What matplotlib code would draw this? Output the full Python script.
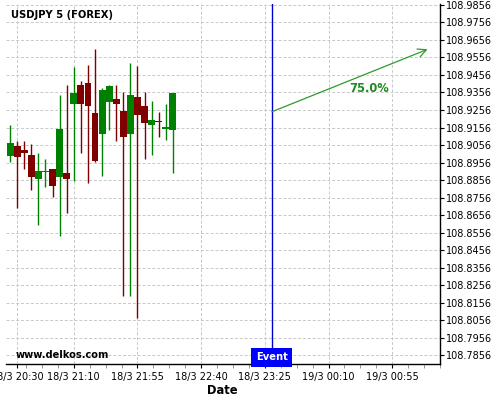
import datetime as dt
import numpy as np
import matplotlib
matplotlib.use("Agg")
import matplotlib.pyplot as plt
import matplotlib.dates as mdates
from matplotlib.transforms import blended_transform_factory

# 5 minute candles, USDJPY
start = dt.datetime(2020, 3, 18, 20, 25)
times = [start + dt.timedelta(minutes=5 * i) for i in range(24)]
opens = [108.8991, 108.9051, 108.9025, 108.9000, 108.8860, 108.8900, 108.8921, 108.8872,
         108.8898, 108.9291, 108.9397, 108.9409, 108.9238, 108.9121, 108.9303, 108.9318,
         108.9250, 108.9121, 108.9329, 108.9278, 108.9172, 108.9193, 108.9150, 108.9144]
closes = [108.9068, 108.8985, 108.9013, 108.8872, 108.8909, 108.8909, 108.8821, 108.9148,
          108.8860, 108.9352, 108.9291, 108.9280, 108.8962, 108.9369, 108.9392, 108.9291,
          108.9104, 108.9341, 108.9227, 108.9184, 108.9199, 108.9187, 108.9159, 108.9352]
highs = [108.9170, 108.9080, 108.9080, 108.9061, 108.9010, 108.8976, 108.8921, 108.9339,
         108.9397, 108.9499, 108.9420, 108.9514, 108.9603, 108.9382, 108.9397, 108.9397,
         108.9356, 108.9526, 108.9507, 108.9356, 108.9310, 108.9246, 108.9288, 108.9352]
lows = [108.8957, 108.8698, 108.8919, 108.8800, 108.8601, 108.8815, 108.8758, 108.8537,
        108.8669, 108.8853, 108.9008, 108.8838, 108.8961, 108.8881, 108.9140, 108.9080,
        108.8195, 108.8191, 108.8066, 108.8976, 108.8998, 108.9099, 108.9087, 108.8894]

event_time = dt.datetime(2020, 3, 18, 23, 30)
arrow_start = (event_time, 108.9246)
arrow_end = (dt.datetime(2020, 3, 19, 1, 20), 108.9603)
prob_text = "75.0%"
prob_pos = (dt.datetime(2020, 3, 19, 0, 38, 40), 108.9380)

tick_times = [dt.datetime(2020, 3, 18, 20, 30), dt.datetime(2020, 3, 18, 21, 10),
              dt.datetime(2020, 3, 18, 21, 55), dt.datetime(2020, 3, 18, 22, 40),
              dt.datetime(2020, 3, 18, 23, 25), dt.datetime(2020, 3, 19, 0, 10),
              dt.datetime(2020, 3, 19, 0, 55)]
yticks = [108.7856 + 0.01 * k for k in range(21)]

green = "#008000"
red = "#800000"

fig = plt.figure(figsize=(5, 4), dpi=100)
ax = fig.add_axes([0.012, 0.09, 0.868, 0.9])

x = mdates.date2num(times)
o = np.array(opens)
c = np.array(closes)
up = c >= o
colors = [green if u else red for u in up]
width = 5 / 1440 * 0.97
ax.vlines(x, lows, highs, colors=colors, lw=1.0, zorder=3)
ax.bar(x, c - o, bottom=o, width=width, color=colors, zorder=4, linewidth=0)

ax.axvline(mdates.date2num(event_time), color="#0000cc", lw=1.0, zorder=5)

ax.annotate("", xy=(mdates.date2num(arrow_end[0]), arrow_end[1]),
            xytext=(mdates.date2num(arrow_start[0]), arrow_start[1]),
            arrowprops=dict(arrowstyle="->,head_length=0.6,head_width=0.3",
                        color="#2e9a2e", lw=0.9, shrinkA=0, shrinkB=0), zorder=6)
ax.text(mdates.date2num(prob_pos[0]), prob_pos[1], prob_text, color="#1f8a1f",
        fontsize=8.3, fontweight="bold", ha="center", va="center", zorder=6)

trans = blended_transform_factory(ax.transData, ax.transAxes)
ax.text(mdates.date2num(event_time), 0.019, "Event", transform=trans, color="white",
        fontsize=7.2, fontweight="bold", ha="center", va="center", zorder=7,
        bbox=dict(boxstyle="square,pad=0.45", fc="#0000ff", ec="none"))

ax.set_xlim(mdates.date2num(dt.datetime(2020, 3, 18, 20, 22, 6)),
            mdates.date2num(dt.datetime(2020, 3, 19, 1, 24, 48)))
ax.set_ylim(108.78046, 108.98617)

ax.set_xticks(mdates.date2num(tick_times))
ax.set_xticklabels([f"{t.day}/{t.month} {t:%H:%M}" for t in tick_times])
base = mdates.date2num(dt.datetime(2020, 3, 18, 21, 10))
ax.set_xticks(base + np.arange(-3, 24) * 11.25 / 1440, minor=True)

ax.yaxis.tick_right()
ax.set_yticks(yticks)
ax.set_yticklabels([f"{v:.4f}" for v in yticks])

ax.tick_params(axis="both", labelsize=7, length=3, width=0.8, color="black")
ax.tick_params(axis="x", pad=3)
ax.tick_params(axis="y", pad=1.5)
ax.tick_params(axis="x", which="minor", length=3, width=0.6, color="#888888")

for side in ("top", "left"):
    ax.spines[side].set_visible(False)
for side in ("bottom", "right"):
    ax.spines[side].set_color("black")
    ax.spines[side].set_linewidth(1.0)

ax.grid(True, which="major", color="#c8c8c8", linestyle=(0, (3, 2)), lw=0.7)
ax.set_axisbelow(True)

fig.text(11 / 500, 1 - 15 / 400, "USDJPY 5 (FOREX)", fontsize=7.2, fontweight="bold",
         va="center", ha="left")
fig.text(15.5 / 500, 1 - 354.5 / 400, "www.delkos.com", fontsize=7.1, fontweight="bold",
         va="center", ha="left", zorder=10)
fig.text(222 / 500, 1 - 390 / 400, "Date", fontsize=8.3, fontweight="bold",
         va="center", ha="center")

fig.savefig("out.png", dpi=100)
